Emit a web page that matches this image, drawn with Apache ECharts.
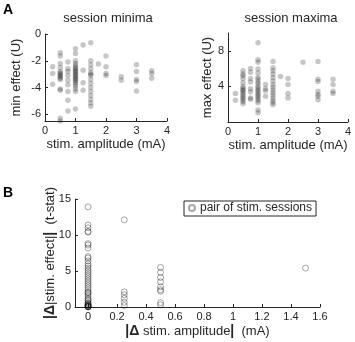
<!DOCTYPE html>
<html>
<head>
<meta charset="utf-8">
<script src="https://cdn.jsdelivr.net/npm/echarts@6/dist/echarts.min.js"></script>
<style>
html, body { margin: 0; padding: 0; background: #fff; }
#main { width: 355px; height: 342px; }
</style>
</head>
<body>
<div id="main"></div>
<script>
// stimulation amplitudes (mA) of the columns in panel A
var amps = [0.25, 0.5, 0.75, 1, 1.25, 1.5, 1.75, 2, 2.5, 3, 3.5];

// session minima, one list per amplitude
var minEffect = [
    [-2.45, -2.95, -3.75],
    [-1.4, -1.65, -2.2, -2.5, -2.8, -2.9, -3.0, -3.1, -3.2, -3.3, -3.4, -4.1, -4.2, -6.3, -6.5],
    [-2.1, -2.6, -2.8, -3.1, -3.45, -3.8, -4.3, -4.95, -5.75],
    [-1.1, -1.45, -2.0, -2.2, -2.35, -2.5, -2.6, -2.7, -2.8, -2.9, -3.0, -3.1, -3.2, -3.3, -3.4, -3.5, -3.6, -3.75, -3.9, -4.1, -4.3, -5.6],
    [-0.83, -2.7, -3.65, -4.2],
    [-0.65, -2.0, -2.3, -2.6, -2.9, -3.0, -3.1, -3.4, -3.7, -4.0, -4.3, -4.6, -4.9, -5.15, -5.4],
    [-2.25],
    [-1.65, -2.45, -2.95, -3.1],
    [-3.2, -3.45],
    [-2.3, -2.8, -3.4, -3.55, -4.25],
    [-2.75, -2.95, -3.3]
];

// session maxima, one list per amplitude
var maxEffect = [
    [3.2, 2.45],
    [5.75, 5.4, 5.2, 4.9, 4.4, 4.0, 3.8, 3.6, 3.5, 3.3, 3.1, 2.9, 2.7, 2.5, 2.3, 2.05],
    [6.0, 5.6, 4.9, 4.5, 3.75, 3.4, 2.7, 2.55],
    [8.9, 7.0, 6.7, 5.95, 5.5, 5.0, 4.8, 4.5, 4.3, 4.0, 3.8, 3.6, 3.4, 3.2, 3.0, 2.8, 2.6, 2.4, 2.15, 1.35, 1.05],
    [4.2, 3.75, 3.5, 2.9],
    [6.8, 6.1, 5.75, 5.4, 5.0, 4.6, 4.2, 3.9, 3.6, 3.3, 3.0, 2.7, 2.4, 2.15, 1.95],
    [5.1],
    [4.9, 4.2, 3.2, 2.7],
    [6.7],
    [6.8, 4.8, 4.55, 3.45, 3.1, 2.9, 2.5],
    [4.8, 4.2, 3.45, 3.2]
];

// panel B: |delta amplitude| columns and |delta effect| values
var deltaAmps = [0, 0.25, 0.5, 1.5];
var deltaEffect = [
    [13.9, 11.4, 11.0, 10.5, 10.4, 8.8, 8.6, 8.2, 7.0, 6.8, 6.4, 6.0, 5.7, 5.4, 5.1, 4.8, 4.5, 4.2, 3.9,
     3.6, 3.3, 3.0, 2.7, 2.4, 2.1, 1.8, 1.5, 1.2, 0.9, 0.6, 0.4, 0.3, 0.2, 0.1, 0.05, 0,
     2.0, 1.0, 0.5, 0.2, 0.1, 0],
    [12.1, 2.1, 1.7, 1.2, 0.65, 0.2],
    [5.5, 4.8, 4.1, 3.5, 2.8, 2.4, 2.2, 0.6, 0.3],
    [5.4]
];

var ticksMin = [-6, -4, -2, 0];
var ticksMax = [4, 8];
var ticksDeltaX = [0, 0.2, 0.4, 0.6, 0.8, 1, 1.2, 1.4, 1.6];
var ticksDeltaXText = ['0', '0.2', '0.4', '0.6', '0.8', '1', '1.2', '1.4', '1.6'];

function pairs(xs, lists) {
    var out = [];
    for (var i = 0; i < xs.length; i++) {
        for (var j = 0; j < lists[i].length; j++) out.push([xs[i], lists[i][j]]);
    }
    return out;
}

var font = 'Liberation Sans, Arial, sans-serif';
var ink = '#262626';

function axis(extra) {
    var a = {
        type: 'value',
        axisLine: { show: true, onZero: false, lineStyle: { color: ink, width: 1 } },
        axisTick: { show: true, inside: true, length: 3, lineStyle: { color: ink } },
        axisLabel: { color: ink, fontSize: 11, fontFamily: font, margin: 4 },
        splitLine: { show: false },
        nameLocation: 'middle',
        nameTextStyle: { color: ink, fontSize: 13, fontFamily: font }
    };
    for (var k in extra) {
        if (typeof extra[k] === 'object' && a[k] && !Array.isArray(extra[k])) {
            for (var m in extra[k]) a[k][m] = extra[k][m];
        } else {
            a[k] = extra[k];
        }
    }
    return a;
}

var chart = echarts.init(document.getElementById('main'));
chart.setOption({
    animation: false,
    textStyle: { fontFamily: font },
    grid: [
        { left: 45, top: 34, width: 122, height: 87 },
        { left: 228, top: 33, width: 120, height: 89 },
        { left: 75, top: 199, width: 245, height: 108 }
    ],
    graphic: [
        { type: 'text', left: 3, top: 3, style: { text: 'A', fontSize: 14, fontWeight: 'bold', fill: '#000', fontFamily: font } },
        { type: 'text', left: 3, top: 186, style: { text: 'B', fontSize: 14, fontWeight: 'bold', fill: '#000', fontFamily: font } },
        { type: 'text', x: 108, y: 18, style: { text: 'session minima', fontSize: 13, fill: ink, fontFamily: font, align: 'center', verticalAlign: 'middle' } },
        { type: 'text', x: 291, y: 18, style: { text: 'session maxima', fontSize: 13, fill: ink, fontFamily: font, align: 'center', verticalAlign: 'middle' } }
    ],
    legend: {
        data: ['pair of stim. sessions'],
        left: 184, top: 201,
        icon: 'circle',
        itemWidth: 6, itemHeight: 6, itemGap: 4,
        padding: [1, 4, 2, 4],
        borderColor: ink, borderWidth: 1,
        textStyle: { color: ink, fontSize: 12, fontFamily: font },
        selectedMode: false
    },
    xAxis: [
        axis({ gridIndex: 0, min: 0, max: 4, interval: 1, name: 'stim. amplitude (mA)', nameGap: 17 }),
        axis({ gridIndex: 1, min: 0, max: 4, interval: 1, name: 'stim. amplitude (mA)', nameGap: 17 }),
        axis({ gridIndex: 2, min: -0.09, max: 1.6, name: '{b||Δ} stim. amplitude{b||}  (mA)', nameGap: 17,
               axisTick: { customValues: ticksDeltaX },
               axisLabel: { customValues: ticksDeltaX, formatter: function (v) { return ticksDeltaXText[ticksDeltaX.indexOf(v)]; } },
               nameTextStyle: { rich: { b: { fontSize: 14, fontWeight: 'bold', color: ink } } } })
    ],
    yAxis: [
        axis({ gridIndex: 0, min: -6.5, max: 0, name: 'min effect (U)', nameGap: 22,
               axisTick: { customValues: ticksMin }, axisLabel: { customValues: ticksMin } }),
        axis({ gridIndex: 1, min: 0, max: 10, name: 'max effect (U)', nameGap: 14,
               axisTick: { customValues: ticksMax }, axisLabel: { customValues: ticksMax } }),
        axis({ gridIndex: 2, min: 0, max: 15, interval: 5, name: '{b||Δ}|stim. effect|{b||}  (t-stat)', nameGap: 18,
               nameMoveOverlap: false,
               nameTextStyle: { rich: { b: { fontSize: 14, fontWeight: 'bold', color: ink } } } })
    ],
    series: [
        {
            type: 'scatter', xAxisIndex: 0, yAxisIndex: 0, symbolSize: 5.5,
            itemStyle: { color: '#000', opacity: 0.22 },
            data: pairs(amps, minEffect)
        },
        {
            type: 'scatter', xAxisIndex: 1, yAxisIndex: 1, symbolSize: 5.5,
            itemStyle: { color: '#000', opacity: 0.22 },
            data: pairs(amps, maxEffect)
        },
        {
            name: 'pair of stim. sessions',
            type: 'scatter', xAxisIndex: 2, yAxisIndex: 2, symbolSize: 6,
            itemStyle: { color: 'rgba(0,0,0,0)', borderColor: '#000', borderWidth: 1, opacity: 0.35 },
            data: pairs(deltaAmps, deltaEffect)
        }
    ]
});
</script>
</body>
</html>
